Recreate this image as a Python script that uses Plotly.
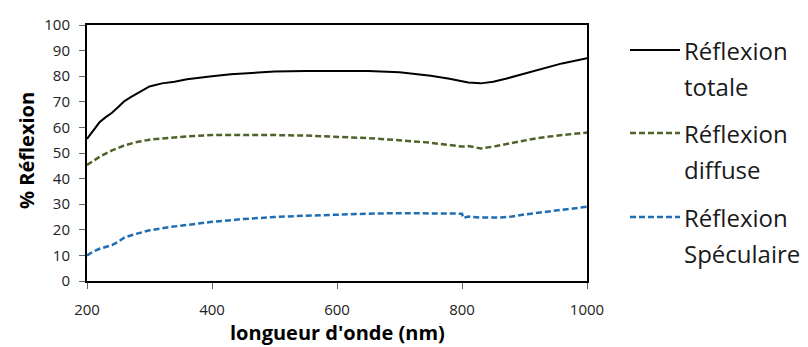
import plotly.graph_objects as go

# Wavelength grids (nm) and reflectance values (%)
wl_totale = [200, 210, 220, 230, 240, 250, 260, 270, 280, 290, 300, 320, 340, 360, 380, 400,
             430, 460, 500, 550, 600, 650, 700, 750, 780, 800, 810, 830, 850, 870, 900, 930, 960, 1000]
r_totale = [55.5, 59, 62, 64, 65.7, 68, 70.3, 71.8, 73.3, 74.8, 76, 77.2, 77.8, 78.8, 79.5, 80,
            80.8, 81.3, 81.8, 82, 82.1, 82, 81.5, 80.2, 79, 78, 77.5, 77.2, 77.8, 79, 81, 83, 85, 87]

wl_diffuse = [200, 210, 220, 240, 260, 280, 300, 330, 360, 400, 450, 500, 550, 600, 650, 700,
              750, 790, 800, 810, 830, 850, 880, 920, 960, 1000]
r_diffuse = [45.3, 47, 48.5, 51, 53, 54.3, 55.2, 55.9, 56.5, 57, 57.1, 57, 56.8, 56.3, 55.8, 55,
             54, 52.8, 52.5, 52.7, 51.8, 52.5, 54, 55.8, 57, 58]

wl_spec = [200, 210, 220, 240, 250, 260, 280, 300, 330, 360, 400, 450, 500, 550, 600, 650, 700,
           750, 790, 800, 802, 810, 830, 860, 880, 900, 950, 1000]
r_spec = [10, 11.5, 12.6, 14, 15.3, 17, 18.5, 19.8, 21, 22, 23.1, 24.2, 25, 25.5, 26, 26.3, 26.5,
          26.5, 26.4, 26.3, 24.6, 25.2, 24.8, 24.8, 25.2, 26, 27.5, 29]

names = [("Réflexion", "totale"), ("Réflexion", "diffuse"), ("Réflexion", "Spéculaire")]
colors = ["#000000", "#4f6228", "#1f6eb4"]
dashes = ["solid", "6px,3px", "6px,3px"]
widths = [2, 2.5, 2.5]

FONT = "'Open Sans', sans-serif"

W, H = 808, 347
L, R, T, B = 87, 221, 25, 66
PW, PH = W - L - R, H - T - B


def px(x):
    return (x - L) / PW


def py(y):
    return 1 - (y - T) / PH


fig = go.Figure()
for x, y, c, d, w in zip([wl_totale, wl_diffuse, wl_spec], [r_totale, r_diffuse, r_spec],
                         colors, dashes, widths):
    fig.add_trace(go.Scatter(x=x, y=y, mode="lines", showlegend=False,
                             line=dict(color=c, dash=d, width=w)))

# Legend drawn to the right of the plot area
legend_rows = [50, 133, 217]
for (l1, l2), c, d, w, ly in zip(names, colors, dashes, widths, legend_rows):
    fig.add_shape(type="line", xref="paper", yref="paper",
                  x0=px(630), x1=px(680), y0=py(ly), y1=py(ly),
                  line=dict(color=c, dash=d, width=w))
    for txt, ty in ((l1, ly), (l2, ly + 36)):
        fig.add_annotation(xref="paper", yref="paper", x=px(682), y=py(ty),
                           text=txt, showarrow=False, xanchor="left", yanchor="middle",
                           align="left", font=dict(family=FONT, size=24, color="#1a1a1a"))

# Axis titles
fig.add_annotation(xref="paper", yref="paper", x=0.5, y=py(332),
                   text="<b>longueur d'onde (nm)</b>", showarrow=False,
                   xanchor="center", yanchor="middle",
                   font=dict(family=FONT, size=20, color="black"))
fig.add_annotation(xref="paper", yref="paper", x=px(26), y=py(151),
                   text="<b>% Réflexion</b>", showarrow=False, textangle=-90,
                   xanchor="center", yanchor="middle",
                   font=dict(family=FONT, size=20, color="black"))

axis_common = dict(showline=True, linecolor="black", linewidth=2, mirror=True,
                   showgrid=False, zeroline=False, ticks="outside", ticklen=6,
                   tickcolor="#666", tickwidth=1, automargin=False,
                   tickfont=dict(family=FONT, size=15, color="#222"))

fig.update_xaxes(range=[200, 1000], tickvals=[200, 400, 600, 800, 1000],
                 ticklabelstandoff=8, **axis_common)
fig.update_yaxes(range=[0, 100], dtick=10, ticklabelstandoff=6, **axis_common)

fig.update_layout(width=W, height=H, margin=dict(l=L, r=R, t=T, b=B),
                  plot_bgcolor="white", paper_bgcolor="white")

fig.write_html("out.html")
